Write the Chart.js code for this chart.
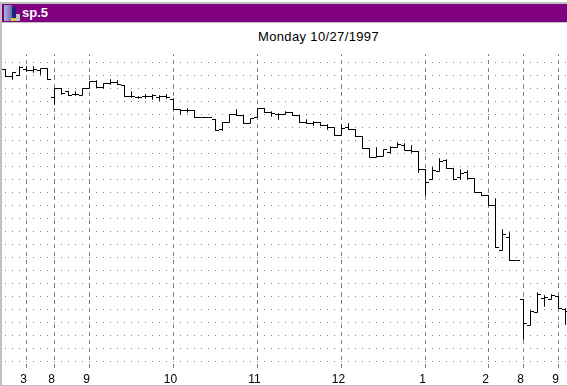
<!DOCTYPE html>
<html>
<head>
    <title>sp.5</title>
    <script src="https://cdn.jsdelivr.net/npm/chart.js"></script>
    <style>
        html, body { margin: 0; padding: 0; background: #fff; }
        #win { position: relative; width: 567px; height: 386px; overflow: hidden; background: #fff; }
        #edgeTop { position: absolute; left: 0; top: 2px; width: 567px; height: 2px; background: #c0c0c0; }
        #edgeLeft { position: absolute; left: 0; top: 2px; width: 2px; height: 384px; background: #c0c0c0; }
        #edgeBottom { position: absolute; left: 0; top: 385px; width: 567px; height: 1px; background: #c0c0c0; }
        #bar { position: absolute; left: 2px; top: 4px; width: 565px; height: 18px; background: #800080; border-bottom: 1px solid #c0c0c0; }
        #bar span { position: absolute; left: 20px; top: 1px; color: #fff; font: bold 13px "Liberation Sans", sans-serif; line-height: 16px; }
        #icon { position: absolute; left: 2px; top: 1px; width: 8px; height: 16px; background: linear-gradient(90deg, #b0b0e0, #6a6ab0); }
        #icon2 { position: absolute; left: 10px; top: 3px; width: 4px; height: 11px; background: #20207a; }
        #icon3 { position: absolute; left: 14px; top: 10px; width: 4px; height: 7px; background: #c0c0c0; }
        #icon4 { position: absolute; left: 9px; top: 14px; width: 5px; height: 3px; background: #d8c840; }
        #heading { position: absolute; left: 0; top: 29px; width: 637px; text-align: center; font: 13px "Liberation Sans", sans-serif; letter-spacing: 0.36px; line-height: 16px; color: #000; }
        #holder { position: absolute; left: 0; top: 54px; }
    </style>
</head>
<body>
<div id="win">
    <div id="edgeTop"></div>
    <div id="edgeLeft"></div>
    <div id="edgeBottom"></div>
    <div id="bar"><div id="icon"></div><div id="icon2"></div><div id="icon3"></div><div id="icon4"></div><span>sp.5</span></div>
    <div id="heading">Monday 10/27/1997</div>
    <div id="holder"><canvas id="stockChart" width="569" height="331"></canvas></div>
</div>
<script>
    // 5 minute bars, price axis is not shown in the picture so levels are relative
    const opens = [931,924,925,931,930,930,932,903,912,909,906,905,912,919,913,917,918,915,904,903,904,904,903,904,901,891,890,890,883,883,881,871,878,886,885,877,883,892,888,886,886,888,885,878,877,878,875,873,865,873,871,864,852,843,844,848,853,855,850,849,831,821,829,840,832,823,828,822,808,805,795,750,763,740,701,675,688,702,701,704,691];
    const highs = [931,928,934,934,934,932,932,912,912,909,909,912,919,920,917,921,920,915,909,904,906,906,905,906,902,891,892,890,883,883,881,878,886,891,885,882,892,892,889,887,889,888,885,881,879,878,876,873,876,877,871,864,852,853,851,854,858,857,855,849,831,833,842,841,832,831,830,822,808,805,802,771,768,740,701,690,708,705,706,704,692];
    const lows = [924,921,925,929,928,926,921,896,906,905,905,905,912,913,912,916,916,904,903,902,902,901,900,902,891,886,888,883,883,883,870,870,878,885,877,877,883,888,884,881,886,885,878,877,875,875,871,865,865,871,864,852,843,843,844,847,853,850,848,828,805,821,829,832,821,821,821,808,805,795,753,750,740,740,661,675,688,694,701,692,676];
    const closes = [924,928,933,930,931,932,921,912,907,905,906,912,919,913,917,918,916,904,904,903,904,905,904,903,891,890,890,883,883,883,870,878,886,885,877,882,892,888,887,886,888,885,878,877,878,875,873,865,872,871,864,852,843,844,851,853,856,850,849,831,818,830,839,832,821,827,822,808,805,795,753,766,740,740,677,689,706,703,705,692,689];

    const hourBars = [3,7,12,24,36,48,60,69,74,79];
    const hourLabels = ['3','8','9','10','11','12','1','2','8','9'];

    const yTop = 946.5, yBottom = 628.5, gridStart = 938, gridStep = 13, gridCount = 24;

    const trace = [];
    opens.forEach(function(o, i) {
        trace.push({x: i - 0.5, y: o}, {x: i, y: o}, {x: i, y: highs[i]}, {x: i, y: lows[i]}, {x: i, y: closes[i]}, {x: i + 0.5, y: closes[i]}, {x: i + 0.5, y: NaN});
    });

    new Chart(document.getElementById('stockChart').getContext('2d'), {
        type: 'line',
        data: {
            datasets: [{
                data: trace,
                borderColor: '#000',
                borderWidth: 1,
                pointRadius: 0,
                tension: 0,
                fill: false,
                spanGaps: false
            }]
        },
        options: {
            responsive: false,
            animation: false,
            layout: { padding: { left: 2, right: 0, top: 0, bottom: 0 } },
            plugins: { legend: { display: false }, title: { display: false }, tooltip: { enabled: false } },
            scales: {
                x: {
                    type: 'linear',
                    min: -0.5,
                    max: 80.5,
                    afterBuildTicks: function(scale) {
                        scale.ticks = hourBars.map(function(v) { return {value: v}; });
                    },
                    afterFit: function(scale) { scale.height = 13; },
                    grid: { color: '#808080', lineWidth: 1, drawTicks: false },
                    border: { display: false, dash: [4, 4], dashOffset: 2 },
                    ticks: {
                        autoSkip: false,
                        maxRotation: 0,
                        padding: 0,
                        labelOffset: -3,
                        color: '#000',
                        font: { family: 'Liberation Sans', size: 12 },
                        callback: function(v, idx) { return hourLabels[idx]; }
                    }
                },
                y: {
                    min: yBottom,
                    max: yTop,
                    afterBuildTicks: function(scale) {
                        const t = [];
                        for (let k = 0; k < gridCount; k++) t.push({value: gridStart - k * gridStep});
                        scale.ticks = t;
                    },
                    afterFit: function(scale) { scale.width = 0; },
                    grid: { color: '#808080', lineWidth: 1, drawTicks: false },
                    border: { display: false, dash: [1, 6], dashOffset: 4 },
                    ticks: { display: false }
                }
            }
        }
    });
</script>
</body>
</html>
